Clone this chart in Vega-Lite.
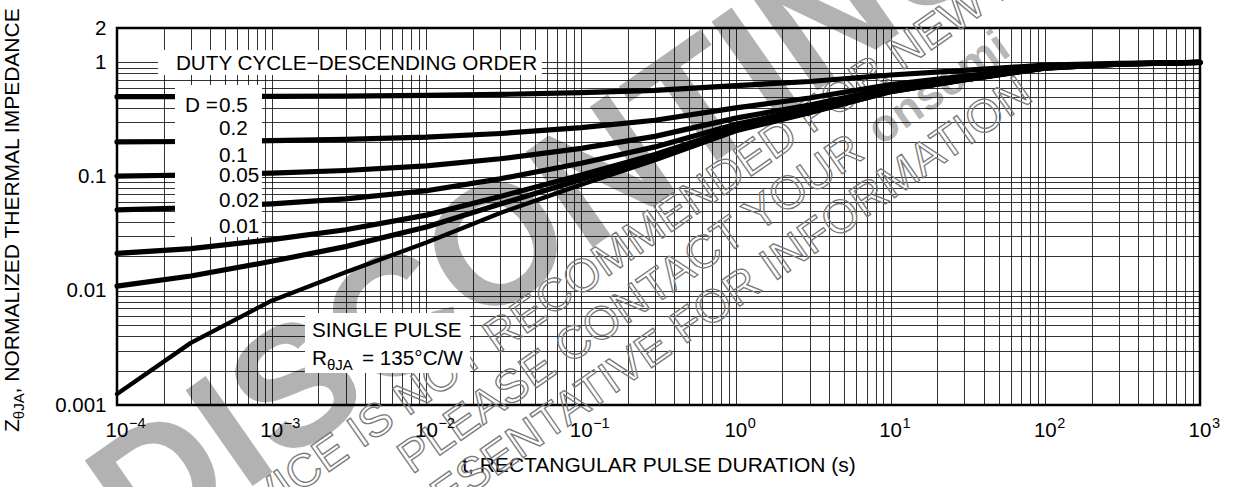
{
  "$schema": "https://vega.github.io/schema/vega-lite/v6.json",
  "width": 1083,
  "height": 377,
  "autosize": {"type": "none"},
  "padding": {"left": 117, "top": 28, "right": 52, "bottom": 82},
  "background": "white",
  "config": {
    "view": {"stroke": "black", "strokeWidth": 2.5},
    "text": {"font": "Liberation Sans", "color": "black", "fontSize": 20.7}
  },
  "datasets": {
    "curves": [
      {"s":"single","t":0.0001,"z":0.00125},{"s":"single","t":0.0003,"z":0.0035},{"s":"single","t":0.001,"z":0.0082},{"s":"single","t":0.003,"z":0.0145},{"s":"single","t":0.01,"z":0.0265},{"s":"single","t":0.03,"z":0.048},{"s":"single","t":0.1,"z":0.085},{"s":"single","t":0.3,"z":0.139},{"s":"single","t":1,"z":0.25},{"s":"single","t":3,"z":0.36},{"s":"single","t":10,"z":0.55},{"s":"single","t":30,"z":0.70},{"s":"single","t":100,"z":0.89},{"s":"single","t":300,"z":0.965},{"s":"single","t":1000,"z":1.0},
      {"s":"0.01","t":0.0001,"z":0.0110},{"s":"0.01","t":0.0003,"z":0.01347},{"s":"0.01","t":0.001,"z":0.01812},{"s":"0.01","t":0.003,"z":0.02436},{"s":"0.01","t":0.01,"z":0.03624},{"s":"0.01","t":0.03,"z":0.05752},{"s":"0.01","t":0.1,"z":0.09415},{"s":"0.01","t":0.3,"z":0.1476},{"s":"0.01","t":1,"z":0.2575},{"s":"0.01","t":3,"z":0.3664},{"s":"0.01","t":10,"z":0.5545},{"s":"0.01","t":30,"z":0.703},{"s":"0.01","t":100,"z":0.8911},{"s":"0.01","t":300,"z":0.9654},{"s":"0.01","t":1000,"z":1.0},
      {"s":"0.02","t":0.0001,"z":0.02123},{"s":"0.02","t":0.0003,"z":0.02343},{"s":"0.02","t":0.001,"z":0.02804},{"s":"0.02","t":0.003,"z":0.03421},{"s":"0.02","t":0.01,"z":0.04597},{"s":"0.02","t":0.03,"z":0.06704},{"s":"0.02","t":0.1,"z":0.1033},{"s":"0.02","t":0.3,"z":0.1562},{"s":"0.02","t":1,"z":0.265},{"s":"0.02","t":3,"z":0.3728},{"s":"0.02","t":10,"z":0.559},{"s":"0.02","t":30,"z":0.706},{"s":"0.02","t":100,"z":0.8922},{"s":"0.02","t":300,"z":0.9657},{"s":"0.02","t":1000,"z":1.0},
      {"s":"0.05","t":0.0001,"z":0.05119},{"s":"0.05","t":0.0003,"z":0.05333},{"s":"0.05","t":0.001,"z":0.05779},{"s":"0.05","t":0.003,"z":0.06378},{"s":"0.05","t":0.01,"z":0.07518},{"s":"0.05","t":0.03,"z":0.0956},{"s":"0.05","t":0.1,"z":0.1308},{"s":"0.05","t":0.3,"z":0.182},{"s":"0.05","t":1,"z":0.2875},{"s":"0.05","t":3,"z":0.392},{"s":"0.05","t":10,"z":0.5725},{"s":"0.05","t":30,"z":0.715},{"s":"0.05","t":100,"z":0.8955},{"s":"0.05","t":300,"z":0.9668},{"s":"0.05","t":1000,"z":1.0},
      {"s":"0.1","t":0.0001,"z":0.1011},{"s":"0.1","t":0.0003,"z":0.1032},{"s":"0.1","t":0.001,"z":0.1074},{"s":"0.1","t":0.003,"z":0.1131},{"s":"0.1","t":0.01,"z":0.1239},{"s":"0.1","t":0.03,"z":0.1432},{"s":"0.1","t":0.1,"z":0.1765},{"s":"0.1","t":0.3,"z":0.2251},{"s":"0.1","t":1,"z":0.325},{"s":"0.1","t":3,"z":0.424},{"s":"0.1","t":10,"z":0.595},{"s":"0.1","t":30,"z":0.73},{"s":"0.1","t":100,"z":0.901},{"s":"0.1","t":300,"z":0.9685},{"s":"0.1","t":1000,"z":1.0},
      {"s":"0.2","t":0.0001,"z":0.201},{"s":"0.2","t":0.0003,"z":0.2028},{"s":"0.2","t":0.001,"z":0.2066},{"s":"0.2","t":0.003,"z":0.2116},{"s":"0.2","t":0.01,"z":0.2212},{"s":"0.2","t":0.03,"z":0.2384},{"s":"0.2","t":0.1,"z":0.268},{"s":"0.2","t":0.3,"z":0.3112},{"s":"0.2","t":1,"z":0.4},{"s":"0.2","t":3,"z":0.488},{"s":"0.2","t":10,"z":0.64},{"s":"0.2","t":30,"z":0.76},{"s":"0.2","t":100,"z":0.912},{"s":"0.2","t":300,"z":0.972},{"s":"0.2","t":1000,"z":1.0},
      {"s":"0.5","t":0.0001,"z":0.5006},{"s":"0.5","t":0.0003,"z":0.5018},{"s":"0.5","t":0.001,"z":0.5041},{"s":"0.5","t":0.003,"z":0.5073},{"s":"0.5","t":0.01,"z":0.5133},{"s":"0.5","t":0.03,"z":0.524},{"s":"0.5","t":0.1,"z":0.5425},{"s":"0.5","t":0.3,"z":0.5695},{"s":"0.5","t":1,"z":0.625},{"s":"0.5","t":3,"z":0.68},{"s":"0.5","t":10,"z":0.775},{"s":"0.5","t":30,"z":0.85},{"s":"0.5","t":100,"z":0.945},{"s":"0.5","t":300,"z":0.9825},{"s":"0.5","t":1000,"z":1.0}
    ],
    "boxes": [
      {"t":0.000184,"t2":0.0558,"z":0.775,"z2":1.283},
      {"t":0.000237,"t2":0.000865,"z":0.0296,"z2":0.634},
      {"t":0.00164,"t2":0.01913,"z":0.001906,"z2":0.00639}
    ],
    "xlabels": [
      {"t":0.0001,"z":0.001,"e":"−4"},{"t":0.001,"z":0.001,"e":"−3"},{"t":0.01,"z":0.001,"e":"−2"},{"t":0.1,"z":0.001,"e":"−1"},
      {"t":1,"z":0.001,"e":"0"},{"t":10,"z":0.001,"e":"1"},{"t":100,"z":0.001,"e":"2"},{"t":1000,"z":0.001,"e":"3"}
    ],
    "dvals": [
      {"t":0.0004565,"z":0.3677,"label":"0.5"},{"t":0.0004565,"z":0.2312,"label":"0.2"},{"t":0.0004565,"z":0.1341,"label":"0.1"},
      {"t":0.0004565,"z":0.08966,"label":"0.05"},{"t":0.0004565,"z":0.05417,"label":"0.02"},{"t":0.0004565,"z":0.03206,"label":"0.01"}
    ],
    "wmlines": [
      {"t":0.00009635,"z":0.000012587,"label":"THIS DEVICE IS NOT RECOMMENDED FOR NEW DESIGN."},
      {"t":0.008033,"z":0.0002438,"label":"PLEASE CONTACT YOUR"},
      {"t":0.0027624,"z":0.000026014,"label":"REPRESENTATIVE FOR INFORMATION"}
    ]
  },
  "encoding": {
    "x": {
      "field": "t", "type": "quantitative",
      "scale": {"type": "log", "domain": [0.0001, 1000], "nice": false},
      "axis": {
        "grid": true, "gridColor": "black", "gridOpacity": 0.8, "gridWidth": 1,
        "ticks": false, "tickSize": 0, "labels": false, "domain": false, "tickCount": 30,
        "title": "t, RECTANGULAR PULSE DURATION (s)",
        "titleFont": "Liberation Sans", "titleFontSize": 21, "titleFontWeight": "normal",
        "titleColor": "black", "titleBaseline": "alphabetic", "titlePadding": 66
      }
    },
    "y": {
      "field": "z", "type": "quantitative",
      "scale": {"type": "log", "domain": [0.001, 2], "nice": false},
      "axis": {
        "grid": true, "gridColor": "black", "gridOpacity": 0.8, "gridWidth": 1,
        "ticks": false, "tickSize": 0, "domain": false, "tickCount": 30,
        "labelExpr": "(datum.value == 2 || datum.value == 1 || datum.value == 0.1 || datum.value == 0.01 || datum.value == 0.001) ? format(datum.value, '~g') : ''",
        "labelFont": "Liberation Sans", "labelFontSize": 20.5, "labelColor": "black",
        "labelPadding": 11, "labelOverlap": false, "labelFlush": false, "labelBound": false,
        "title": null
      }
    }
  },
  "layer": [
    {
      "data": {"values": [{"t": 0.00014638, "z": 0.00004152, "label": "DISCONTINUED"}]},
      "mark": {"type": "text", "align": "left", "baseline": "alphabetic", "angle": -35, "fontSize": 170, "fontWeight": "bold", "fill": "black", "fillOpacity": 0.3},
      "encoding": {"text": {"field": "label"}}
    },
    {
      "data": {"name": "wmlines"},
      "mark": {"type": "text", "align": "left", "baseline": "alphabetic", "angle": -35, "fontSize": 46, "fill": "white", "fillOpacity": 0, "stroke": "#7a7a7a", "strokeWidth": 1.3},
      "encoding": {"text": {"field": "label"}}
    },
    {
      "data": {"values": [{"t": 8.636, "z": 0.18412, "label": "onsemi"}]},
      "mark": {"type": "text", "align": "left", "baseline": "alphabetic", "angle": -35, "fontSize": 46, "fontWeight": "bold", "fill": "black", "fillOpacity": 0.3},
      "encoding": {"text": {"field": "label"}}
    },
    {
      "data": {"name": "curves"},
      "mark": {"type": "line", "color": "black", "strokeCap": "round", "strokeJoin": "round"},
      "encoding": {
        "detail": {"field": "s", "type": "nominal"},
        "strokeWidth": {"condition": {"test": "datum.s === 'single'", "value": 4.3}, "value": 5.2}
      }
    },
    {
      "data": {"name": "boxes"},
      "mark": {"type": "rect", "fill": "white", "stroke": null},
      "encoding": {"x2": {"field": "t2"}, "y2": {"field": "z2"}}
    },
    {
      "data": {"values": [{"t": 0.003532, "z": 0.858, "label": "DUTY CYCLE−DESCENDING ORDER"}]},
      "mark": {"type": "text", "align": "center", "baseline": "alphabetic"},
      "encoding": {"text": {"field": "label"}}
    },
    {
      "data": {"values": [{"t": 0.0002751, "z": 0.3677, "label": "D ="}]},
      "mark": {"type": "text", "align": "left", "baseline": "alphabetic"},
      "encoding": {"text": {"field": "label"}}
    },
    {
      "data": {"name": "dvals"},
      "mark": {"type": "text", "align": "left", "baseline": "alphabetic"},
      "encoding": {"text": {"field": "label"}}
    },
    {
      "data": {"values": [{"t": 0.001822, "z": 0.00394, "label": "SINGLE PULSE"}]},
      "mark": {"type": "text", "align": "left", "baseline": "alphabetic"},
      "encoding": {"text": {"field": "label"}}
    },
    {
      "data": {"values": [{"t": 0.001822, "z": 0.00224, "label": "R"}]},
      "mark": {"type": "text", "align": "left", "baseline": "alphabetic"},
      "encoding": {"text": {"field": "label"}}
    },
    {
      "data": {"values": [{"t": 0.001822, "z": 0.00224, "label": "θJA"}]},
      "mark": {"type": "text", "align": "left", "baseline": "alphabetic", "dx": 15, "dy": 5, "fontSize": 15},
      "encoding": {"text": {"field": "label"}}
    },
    {
      "data": {"values": [{"t": 0.001822, "z": 0.00224, "label": "= 135°C/W"}]},
      "mark": {"type": "text", "align": "left", "baseline": "alphabetic", "dx": 50},
      "encoding": {"text": {"field": "label"}}
    },
    {
      "data": {"name": "xlabels"},
      "mark": {"type": "text", "align": "center", "baseline": "alphabetic", "dy": 32, "fontSize": 20.5},
      "encoding": {"text": {"value": "10"}}
    },
    {
      "data": {"name": "xlabels"},
      "mark": {"type": "text", "align": "left", "baseline": "alphabetic", "dx": 12, "dy": 23, "fontSize": 14.5},
      "encoding": {"text": {"field": "e"}}
    },
    {
      "data": {"values": [{"t": 0.00002343, "z": 0.0005801, "label": "Z"}]},
      "mark": {"type": "text", "align": "left", "baseline": "alphabetic", "angle": 270, "fontSize": 21},
      "encoding": {"text": {"field": "label"}}
    },
    {
      "data": {"values": [{"t": 0.00002506, "z": 0.0007509, "label": "θJA"}]},
      "mark": {"type": "text", "align": "left", "baseline": "alphabetic", "angle": 270, "fontSize": 15},
      "encoding": {"text": {"field": "label"}}
    },
    {
      "data": {"values": [{"t": 0.00002343, "z": 0.0012637, "label": ", NORMALIZED THERMAL IMPEDANCE"}]},
      "mark": {"type": "text", "align": "left", "baseline": "alphabetic", "angle": 270, "fontSize": 21},
      "encoding": {"text": {"field": "label"}}
    }
  ]
}
